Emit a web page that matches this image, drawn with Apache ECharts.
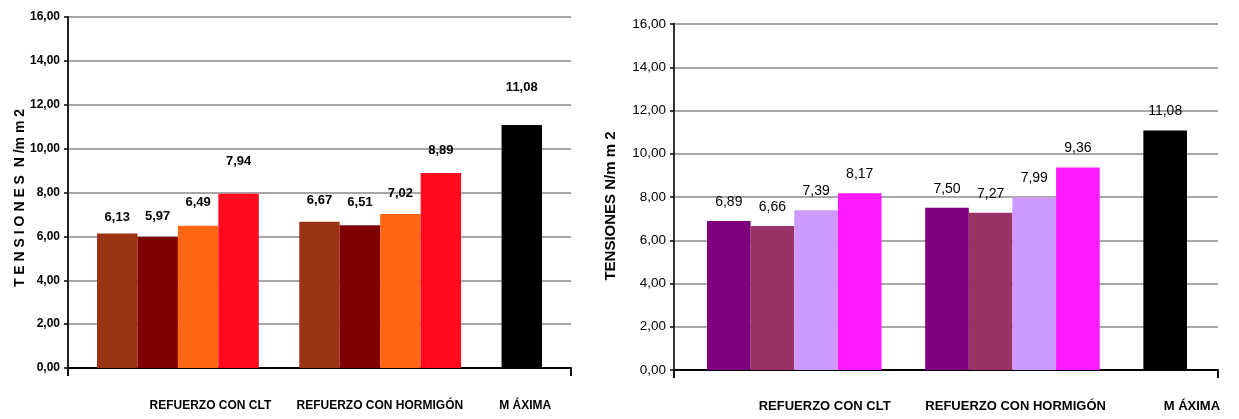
<!DOCTYPE html>
<html>
<head>
<meta charset="utf-8">
<script src="https://cdn.jsdelivr.net/npm/echarts@6/dist/echarts.min.js"></script>
<style>
  html, body { margin: 0; padding: 0; background: #fff; }
  #chart { width: 1239px; height: 419px; }
</style>
</head>
<body>
<div id="chart"></div>
<script>
// ---- data ----
const CATEGORIES = ['REFUERZO CON CLT', 'REFUERZO CON HORMIGÓN', 'M ÁXIMA'];
const LEFT_CLT = [6.13, 5.97, 6.49, 7.94];
const LEFT_HORMIGON = [6.67, 6.51, 7.02, 8.89];
const LEFT_MAXIMA = [11.08];
const RIGHT_CLT = [6.89, 6.66, 7.39, 8.17];
const RIGHT_HORMIGON = [7.50, 7.27, 7.99, 9.36];
const RIGHT_MAXIMA = [11.08];
const Y_MIN = 0, Y_MAX = 16, Y_STEP = 2;
const LEFT_TITLE = 'T E N S I O N E S  N /m m 2';
const RIGHT_TITLE = 'TENSIONES N/m m 2';

// ---- styles ----
const SANS = '"Liberation Sans", Arial, sans-serif';
const comma = v => Number(v).toFixed(2).replace('.', ',');

const charts = [
  {
    clt: LEFT_CLT, horm: LEFT_HORMIGON, max: LEFT_MAXIMA, title: LEFT_TITLE,
    colors: ['#993311', '#7f0000', '#ff6614', '#ff0a1e'], maxColor: '#000000',
    outer: { left: 68, right: 668, top: 17, bottom: 51 },
    inner: { left: 97, right: 697, top: 17, bottom: 51 },
    labelAt: [28.3, 62.0, 90.9],
    xFont: { fontFamily: SANS, fontSize: 12, fontWeight: 'bold', color: '#000' },
    xMargin: 32,
    yFont: { fontFamily: SANS, fontSize: 12, fontWeight: 'bold', color: '#000' },
    dataFont: { fontFamily: SANS, fontSize: 13, fontWeight: 'bold', color: '#000' },
    lift: [10, 14, 17, 26, null, 15, 16, 14, 16, null, 31],
    titleFont: { fontFamily: SANS, fontSize: 14, fontWeight: 'bold', color: '#000', padding: [0, 11, 0, 0] },
    nameGap: 41, borderColor: '#222'
  },
  {
    clt: RIGHT_CLT, horm: RIGHT_HORMIGON, max: RIGHT_MAXIMA, title: RIGHT_TITLE,
    colors: ['#7f007f', '#993366', '#cc99ff', '#ff1aff'], maxColor: '#000000',
    outer: { left: 674, right: 21, top: 24, bottom: 49 },
    inner: { left: 707, right: 52, top: 24, bottom: 49 },
    labelAt: [27.7, 62.8, 95.2],
    xFont: { fontFamily: SANS, fontSize: 13, fontWeight: 'bold', color: '#000' },
    xMargin: 30,
    yFont: { fontFamily: SANS, fontSize: 13.5, color: '#000' },
    dataFont: { fontFamily: SANS, fontSize: 14, color: '#000' },
    lift: null,
    titleFont: { fontFamily: SANS, fontSize: 15, fontWeight: 'bold', color: '#000', padding: [0, 18, 0, 0] },
    nameGap: 56, borderColor: '#333'
  }
];

const option = { animation: false, backgroundColor: '#fff', grid: [], xAxis: [], yAxis: [], series: [] };

charts.forEach((c, ci) => {
  const gOuter = option.grid.length;
  option.grid.push(Object.assign({ containLabel: false, outerBoundsMode: 'none' }, c.outer));
  const gInner = option.grid.length;
  option.grid.push(Object.assign({ containLabel: false, outerBoundsMode: 'none' }, c.inner));

  // frame x axis (baseline + end ticks)
  option.xAxis.push({
    gridIndex: gOuter, type: 'value', position: 'bottom', offset: 0, min: 0, max: 100, interval: 100,
    axisLine: { show: true, onZero: false, lineStyle: { color: '#000', width: 2 } },
    axisTick: { show: true, length: 8, lineStyle: { color: '#111', width: 2 } },
    axisLabel: { show: false }, splitLine: { show: false }
  });
  // category label axis
  const pos = c.labelAt;
  option.xAxis.push({
    gridIndex: gOuter, type: 'value', position: 'bottom', offset: 0, min: 0, max: 100, interval: 0.1,
    axisLine: { show: false, onZero: false }, axisTick: { show: false }, splitLine: { show: false },
    axisLabel: Object.assign({
      show: true, margin: c.xMargin, showMinLabel: true, showMaxLabel: true,
      formatter: v => {
        for (let i = 0; i < pos.length; i++) if (Math.abs(v - pos[i]) < 0.05) return CATEGORIES[i];
        return '';
      }
    }, c.xFont)
  });
  // inner category axis for bars
  const slots = [...c.clt, null, ...c.horm, null, ...c.max];
  const colors = [...c.colors, null, ...c.colors, null, c.maxColor];
  const xInner = option.xAxis.length;
  option.xAxis.push({
    gridIndex: gInner, type: 'category', show: false, boundaryGap: true, position: 'bottom',
    data: slots.map((_, i) => 's' + i)
  });

  option.yAxis.push({
    gridIndex: gOuter, type: 'value', position: 'left', min: Y_MIN, max: Y_MAX, interval: Y_STEP,
    axisLine: { show: true, lineStyle: { color: '#000', width: 2 } },
    axisTick: { show: true, length: 4, lineStyle: { color: '#000', width: 1.5 } },
    axisLabel: Object.assign({ margin: 8, formatter: comma }, c.yFont),
    splitLine: { show: true, lineStyle: { color: '#8a8a8a', width: 1.5 } },
    name: c.title, nameLocation: 'middle', nameRotate: 90, nameGap: c.nameGap,
    nameMoveOverlap: false,
    nameTextStyle: c.titleFont
  });
  option.yAxis.push({
    gridIndex: gOuter, type: 'value', position: 'right', min: Y_MIN, max: Y_MAX, interval: Y_STEP,
    axisLine: { show: true, lineStyle: { color: c.borderColor, width: 2 } },
    axisTick: { show: false }, axisLabel: { show: false }, splitLine: { show: false }
  });
  const yInner = option.yAxis.length;
  option.yAxis.push({ gridIndex: gInner, type: 'value', min: Y_MIN, max: Y_MAX, show: false, splitLine: { show: false } });

  option.series.push({
    type: 'bar', xAxisIndex: xInner, yAxisIndex: yInner,
    barCategoryGap: '0%', z: 3,
    label: Object.assign({ show: true, position: 'top', distance: 12, formatter: p => comma(p.value) }, c.dataFont),
    data: slots.map((v, i) => {
      if (v === null) return '-';
      const item = { value: v, itemStyle: { color: colors[i] } };
      if (c.lift && c.lift[i] != null) item.label = { distance: c.lift[i] };
      return item;
    })
  });
});

const chart = echarts.init(document.getElementById('chart'), null, { renderer: 'canvas' });
chart.setOption(option);
</script>
</body>
</html>
